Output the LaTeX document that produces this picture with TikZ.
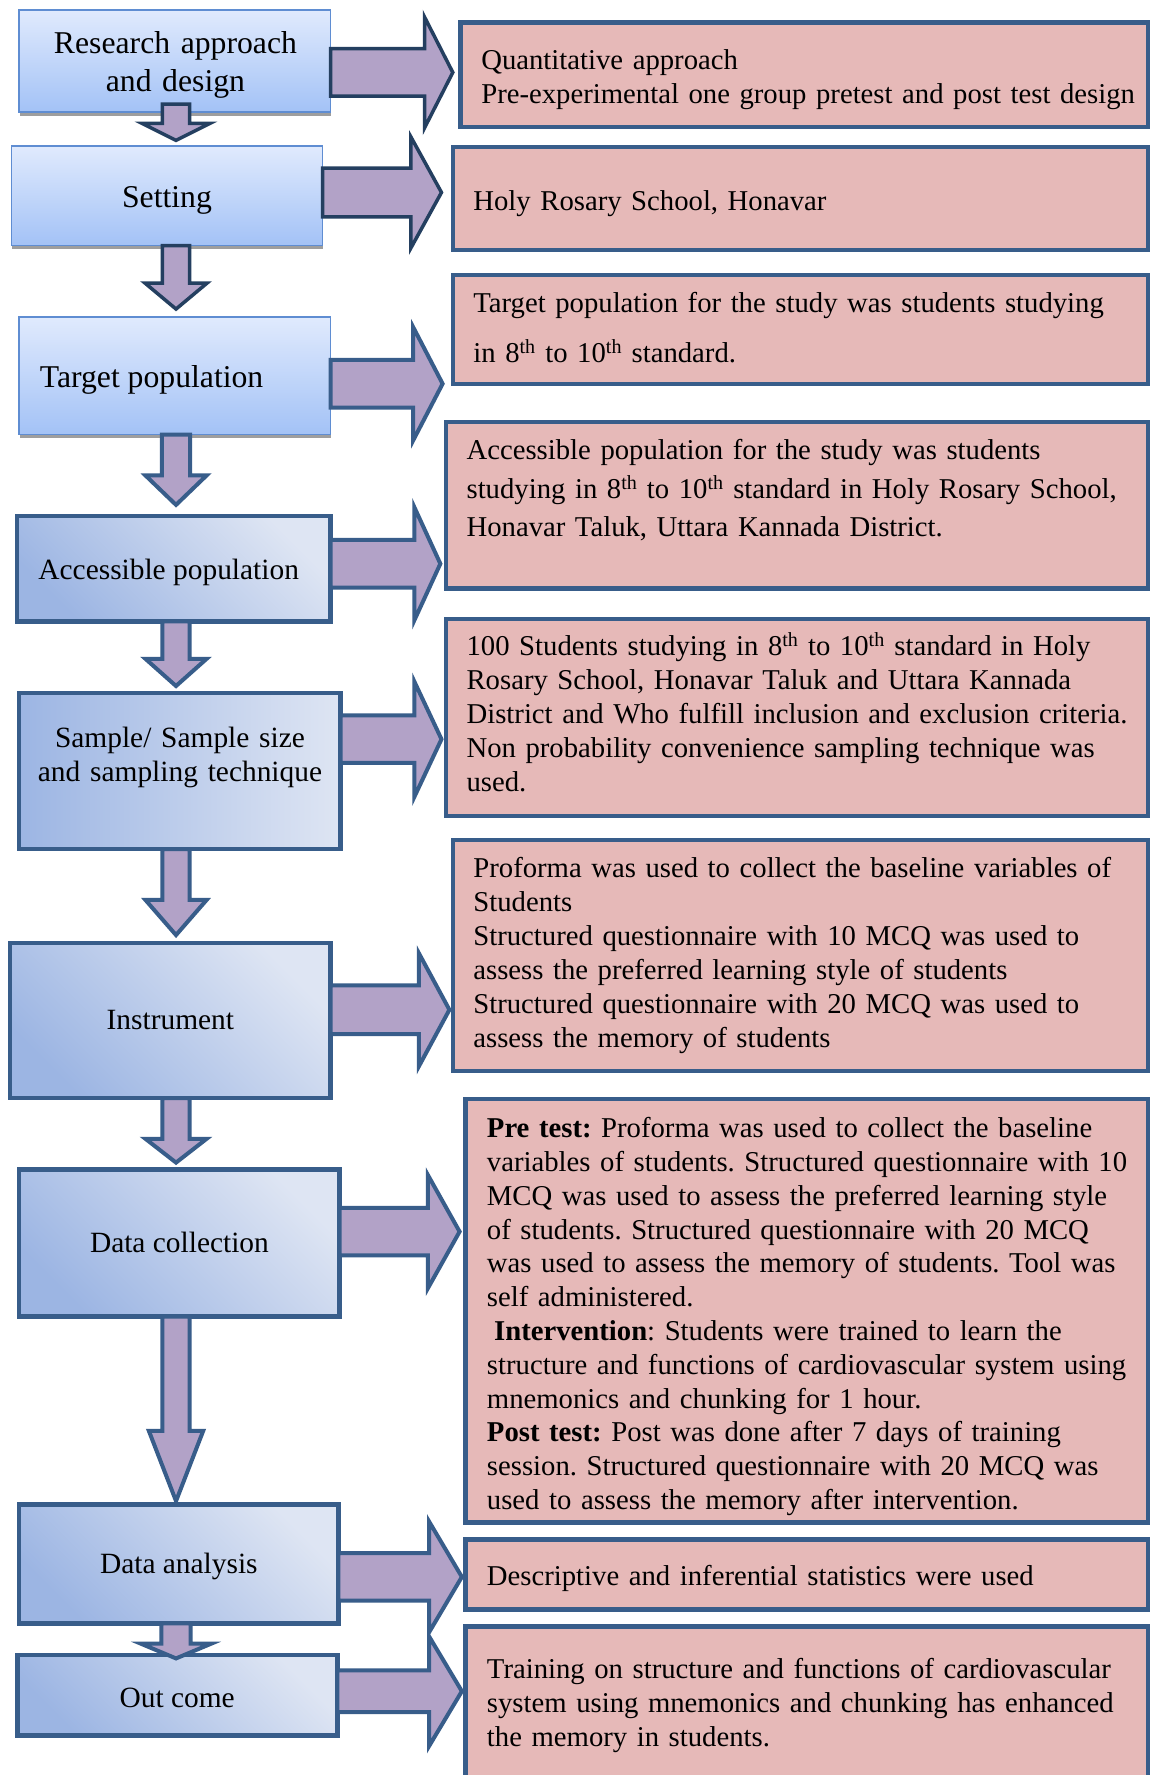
\documentclass[tikz,border=0pt]{standalone}
\usepackage{fontspec}
\setmainfont{Liberation Serif}
\usetikzlibrary{calc,shadows}
\frenchspacing

\definecolor{arrfill}{RGB}{178,162,199}
\definecolor{navyA}{RGB}{36,63,96}
\definecolor{navyB}{RGB}{56,93,138}
\definecolor{pinkfill}{RGB}{230,185,184}
\definecolor{ltop}{RGB}{224,234,253}
\definecolor{lbot}{RGB}{163,194,246}
\definecolor{lline}{RGB}{95,141,210}
\definecolor{glight}{RGB}{222,229,243}
\definecolor{gdark}{RGB}{156,181,227}

\tikzset{
  lboxA/.style={draw=lline, line width=1.5pt, top color=ltop, bottom color=lbot,
    drop shadow={shadow xshift=0.5pt, shadow yshift=-3.5pt, fill=black!38, opacity=1}},
  lboxB/.style={draw=navyB, line width=4.5pt, top color=glight, bottom color=gdark, shading angle=-45},
  lboxC/.style={draw=navyB, line width=4.5pt, left color=gdark, right color=glight},
  pbox/.style={draw=navyB, line width=4.5pt, fill=pinkfill},
  blockA/.style={fill=arrfill, draw=navyA, line width=3.5pt, line join=miter},
  blockB/.style={fill=arrfill, draw=navyB, line width=4pt, line join=miter},
  bigtxt/.style={inner sep=0pt, font=\fontsize{31.7pt}{38.5pt}\selectfont},
  midtxt/.style={inner sep=0pt, font=\fontsize{29.4pt}{34pt}\selectfont},
  ptxt/.style={anchor=base west, inner sep=0pt, text width=720pt, align=left,
    font=\fontsize{28.7pt}{34pt}\selectfont}
}

% box by border-centre corners (reference units)
\newcommand\mybox[6]{%
  \node[#1, minimum width={(#5-#3)*1.1318pt}, minimum height={(#6-#4)*1.1318pt},
        inner sep=0pt, outer sep=0pt] (#2) at ({(#3+#5)/2},{(#4+#6)/2}) {};}

% down block arrow: style, from, to, shaft half, head half, head length, tip gap, start offset
\newcommand\dnarrow[8]{%
  \draw[#1] let \p1=(#2.south), \p2=(#3.north), \p3=(axis) in
    ({\x3-(#4)*1.1318pt},{\y1+(#8)*1.1318pt}) --
    ({\x3-(#4)*1.1318pt},{\y2+(#7+#6)*1.1318pt}) --
    ({\x3-(#5)*1.1318pt},{\y2+(#7+#6)*1.1318pt}) --
    ({\x3},{\y2+(#7)*1.1318pt}) --
    ({\x3+(#5)*1.1318pt},{\y2+(#7+#6)*1.1318pt}) --
    ({\x3+(#4)*1.1318pt},{\y2+(#7+#6)*1.1318pt}) --
    ({\x3+(#4)*1.1318pt},{\y1+(#8)*1.1318pt}) -- cycle;}

% right block arrow: style, from, to, tip y, shaft half, head half, head length, tip gap
\newcommand\rtarrow[8]{%
  \draw[#1] let \p1=(#2.east), \p2=(#3.west), \p3=(0,#4) in
    ({\x1},{\y3+(#5)*1.1318pt}) --
    ({\x2-(#8+#7)*1.1318pt},{\y3+(#5)*1.1318pt}) --
    ({\x2-(#8+#7)*1.1318pt},{\y3+(#6)*1.1318pt}) --
    ({\x2-(#8)*1.1318pt},{\y3}) --
    ({\x2-(#8+#7)*1.1318pt},{\y3-(#6)*1.1318pt}) --
    ({\x2-(#8+#7)*1.1318pt},{\y3-(#5)*1.1318pt}) --
    ({\x1},{\y3-(#5)*1.1318pt}) -- cycle;}

\begin{document}
\begin{tikzpicture}[x=1.1318pt, y=-1.1318pt]
\useasboundingbox (0,0) rectangle (1017,1568);
\fill[white] (0,0) rectangle (1017,1568);
\clip (0,0) rectangle (1017,1568);
\coordinate (axis) at (155.5,0);

% right-hand boxes
\mybox{pbox}{p1}{407}{20}{1014}{112}
\mybox{pbox}{p2}{400}{130}{1014}{221}
\mybox{pbox}{p3}{400}{243}{1014}{339}
\mybox{pbox}{p4}{394}{373}{1014}{520}
\mybox{pbox}{p5}{394}{547}{1014}{721}
\mybox{pbox}{p6}{400}{742}{1014}{946}
\mybox{pbox}{p7}{411}{971}{1014}{1345}
\mybox{pbox}{p8}{411}{1360}{1014}{1422}
\mybox{pbox}{p9}{411}{1437}{1014}{1600}

% left-hand boxes
\mybox{lboxA}{b1}{17}{9}{292}{99}
\mybox{lboxA}{b2}{10}{129}{285}{217}
\mybox{lboxA}{b3}{17}{280}{292}{384}
\mybox{lboxB}{b4}{15}{456}{292}{549}
\mybox{lboxC}{b5}{17}{612}{301}{750}
\mybox{lboxB}{b6}{9}{833}{292}{970}
\mybox{lboxB}{b7}{17}{1033}{300}{1163}
\mybox{lboxB}{b8}{17}{1329}{299}{1434}
\mybox{lboxB}{b9}{15.5}{1462}{298}{1533}

% down arrows
\dnarrow{blockA}{b1}{b2}{12}{30}{15}{5}{7}
\dnarrow{blockA}{b2}{b3}{12}{27.5}{23}{7}{0}
\dnarrow{blockB}{b3}{b4}{12.5}{27}{26}{10}{0}
\dnarrow{blockB}{b4}{b5}{12}{27}{24}{6}{0}
\dnarrow{blockB}{b5}{b6}{12}{27}{31}{7}{0}
\dnarrow{blockB}{b6}{b7}{12}{27}{21}{6}{0}
\dnarrow{blockB}{b7}{b8}{12}{24}{62}{3}{0}
\dnarrow{blockB}{b8}{b9}{13}{31}{13}{-3}{0}

% right arrows
\rtarrow{blockA}{b1}{p1}{64}{21}{49}{25}{7}
\rtarrow{blockA}{b2}{p2}{170}{21.5}{49}{27}{10}
\rtarrow{blockB}{b3}{p3}{339}{21}{50}{26}{9}
\rtarrow{blockB}{b4}{p4}{498}{21}{50}{23}{5}
\rtarrow{blockB}{b5}{p5}{653}{21}{51}{24}{4}
\rtarrow{blockB}{b6}{p6}{892}{21.5}{50}{27}{3}
\rtarrow{blockB}{b7}{p7}{1088}{21}{50}{28}{5}
\rtarrow{blockB}{b8}{p8}{1393}{21}{49}{29}{3}
\rtarrow{blockB}{b9}{p9}{1494}{18.5}{48.5}{29}{3}

% left texts
\node[bigtxt, anchor=base, text width=300pt, align=center] (t1) at (155,47) {Research approach\\and design};
\node[bigtxt, anchor=base] (t2) at (147.5,183) {Setting};
\node[bigtxt, anchor=base west] (t3) at (35,342) {Target population};
\node[midtxt, anchor=base] (t4) at (149,512) {Accessible population};
\node[midtxt, anchor=base, text width=320pt, align=center] (t5) at (159,660) {Sample/ Sample size\\and sampling technique};
\node[midtxt, anchor=base] (t6) at (150.5,909) {Instrument};
\node[midtxt, anchor=base] (t7) at (158.5,1106) {Data collection};
\node[midtxt, anchor=base] (t8) at (158,1390) {Data analysis};
\node[midtxt, anchor=base] (t9) at (156.5,1508) {Out come};

% right texts
\node[ptxt] (q1) at (425,61) {Quantitative approach\\Pre-experimental one group pretest and post test design};
\node[ptxt] (q2) at (418,186) {Holy Rosary School, Honavar};
\node[ptxt, font=\fontsize{28.7pt}{49.8pt}\selectfont] (q3) at (418,276) {Target population for the study was students studying\\in 8\textsuperscript{th} to 10\textsuperscript{th} standard.};
\node[ptxt, font=\fontsize{28.7pt}{38.5pt}\selectfont] (q4) at (412,406) {Accessible population for the study was students\\studying in 8\textsuperscript{th} to 10\textsuperscript{th} standard in Holy Rosary School,\\Honavar Taluk, Uttara Kannada District.};
\node[ptxt] (q5) at (412,579) {100 Students studying in 8\textsuperscript{th} to 10\textsuperscript{th} standard in Holy\\Rosary School, Honavar Taluk and Uttara Kannada\\District and Who fulfill inclusion and exclusion criteria.\\Non probability convenience sampling technique was\\used.};
\node[ptxt] (q6) at (418,775) {Proforma was used to collect the baseline variables of\\Students\\Structured questionnaire with 10 MCQ was used to\\assess the preferred learning style of students\\Structured questionnaire with 20 MCQ was used to\\assess the memory of students};
\node[ptxt, font=\fontsize{28.7pt}{33.8pt}\selectfont] (q7) at (430,1005) {\textbf{Pre test:} Proforma was used to collect the baseline\\variables of students. Structured questionnaire with 10\\MCQ was used to assess the preferred learning style\\of students. Structured questionnaire with 20 MCQ\\was used to assess the memory of students. Tool was\\self administered.\\\hspace*{0.25em}\textbf{Intervention}: Students were trained to learn the\\structure and functions of cardiovascular system using\\mnemonics and chunking for 1 hour.\\\textbf{Post test:} Post was done after 7 days of training\\session. Structured questionnaire with 20 MCQ was\\used to assess the memory after intervention.};
\node[ptxt] (q8) at (430,1401) {Descriptive and inferential statistics were used};
\node[ptxt] (q9) at (430,1483) {Training on structure and functions of cardiovascular\\system using mnemonics and chunking has enhanced\\the memory in students.};
\end{tikzpicture}
\end{document}
